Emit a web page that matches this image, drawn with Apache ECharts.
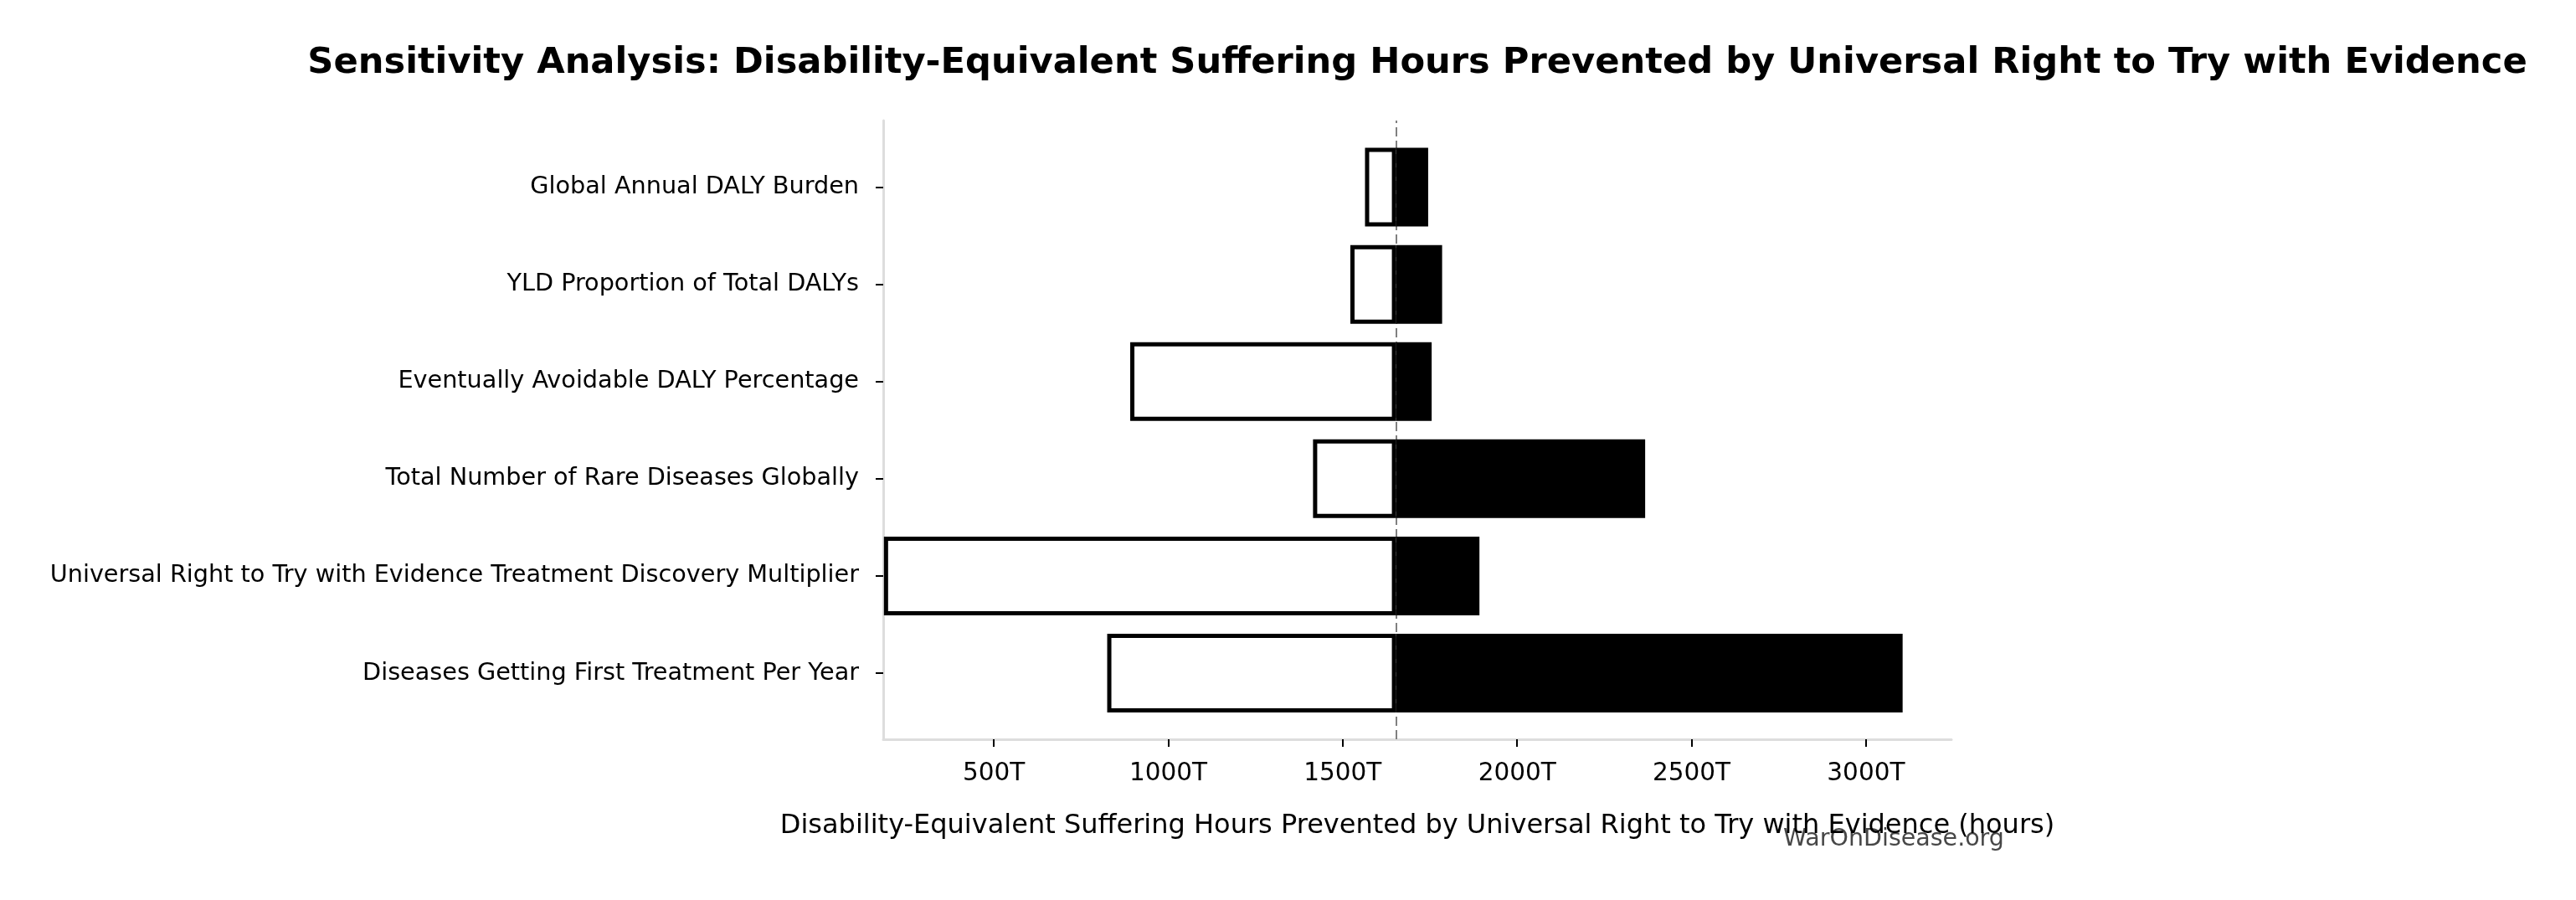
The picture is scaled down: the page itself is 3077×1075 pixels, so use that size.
<!DOCTYPE html>
<html>
<head>
<meta charset="utf-8">
<title>Sensitivity Analysis</title>
<script src="https://cdn.jsdelivr.net/npm/echarts@6/dist/echarts.min.js"></script>
<style>
html, body { margin: 0; padding: 0; background: #ffffff; }
#main { width: 3077px; height: 1075px; }
</style>
</head>
<body>
<div id="main"></div>
<script>
// parameters, top to bottom
var parameters = [
    'Global Annual DALY Burden',
    'YLD Proportion of Total DALYs',
    'Eventually Avoidable DALY Percentage',
    'Total Number of Rare Diseases Globally',
    'Universal Right to Try with Evidence Treatment Discovery Multiplier',
    'Diseases Getting First Treatment Per Year'
];
// outcome (T hours) at low / high parameter value
var lowValues = [1564, 1522, 891, 1415, 185, 825];
var highValues = [1745, 1785, 1755, 2367, 1892, 3105];
var baselineValue = 1653;
var tickValues = [500, 1000, 1500, 2000, 2500, 3000];

var axisMin = 183;
var axisMax = 3245;
var font = 'DejaVu Sans';

// stacked pieces: invisible base + visible span
var lowSpan = lowValues.map(function (v) { return baselineValue - v; });
var highBase = highValues.map(function () { return baselineValue; });
var highSpan = highValues.map(function (v) { return v - baselineValue; });

var myChart = echarts.init(document.getElementById('main'));

option = {
    backgroundColor: '#ffffff',
    animation: false,
    title: {
        text: 'Sensitivity Analysis: Disability-Equivalent Suffering Hours Prevented by Universal Right to Try with Evidence',
        left: 1693,
        top: 54,
        padding: 0,
        textAlign: 'center',
        textStyle: {
            fontFamily: font,
            fontWeight: 'bold',
            fontSize: 43.2,
            color: '#000000'
        }
    },
    grid: [{
        // frame: spines, x ticks, axis title
        left: 1055,
        width: 1276,
        top: 144,
        height: 739,
        outerBoundsMode: 'none'
    }, {
        // bars
        left: 1055,
        width: 1276,
        top: 165.5,
        height: 696.6,
        outerBoundsMode: 'none'
    }],
    xAxis: [{
        type: 'value',
        gridIndex: 0,
        min: axisMin,
        max: axisMax,
        splitLine: { show: false },
        axisLine: { show: true, lineStyle: { color: '#dddddd', width: 3 } },
        axisTick: {
            show: true,
            customValues: tickValues,
            length: 9,
            lineStyle: { color: '#000000', width: 2 }
        },
        axisLabel: {
            customValues: tickValues,
            margin: 26,
            fontFamily: font,
            fontSize: 29.5,
            color: '#000000',
            formatter: function (v) { return v + 'T'; }
        },
        name: 'Disability-Equivalent Suffering Hours Prevented by Universal Right to Try with Evidence (hours)',
        nameLocation: 'middle',
        nameGap: 88,
        nameTextStyle: {
            fontFamily: font,
            fontSize: 32,
            color: '#000000'
        }
    }, {
        type: 'value',
        gridIndex: 1,
        min: axisMin,
        max: axisMax,
        show: false
    }],
    yAxis: [{
        type: 'value',
        gridIndex: 0,
        min: 0,
        max: 1,
        splitLine: { show: false },
        axisLine: { show: true, lineStyle: { color: '#dddddd', width: 3 } },
        axisTick: { show: false },
        axisLabel: { show: false }
    }, {
        type: 'category',
        gridIndex: 1,
        inverse: true,
        data: parameters,
        axisLine: { show: false },
        axisTick: {
            show: true,
            alignWithLabel: true,
            length: 9,
            lineStyle: { color: '#000000', width: 2 }
        },
        axisLabel: {
            margin: 29,
            fontFamily: font,
            fontSize: 28.7,
            color: '#000000'
        }
    }],
    series: [{
        name: 'baseline',
        type: 'line',
        xAxisIndex: 0,
        yAxisIndex: 0,
        z: 1,
        data: [],
        markLine: {
            silent: true,
            z: 1,
            symbol: 'none',
            label: { show: false },
            lineStyle: { color: '#808080', width: 2, type: [11, 5] },
            data: [{ xAxis: baselineValue }]
        }
    }, {
        name: 'lowBase',
        type: 'bar',
        xAxisIndex: 1,
        yAxisIndex: 1,
        stack: 'low',
        silent: true,
        z: 3,
        barWidth: 94,
        itemStyle: { color: 'rgba(0,0,0,0)' },
        data: lowValues
    }, {
        name: 'Low value',
        type: 'bar',
        xAxisIndex: 1,
        yAxisIndex: 1,
        stack: 'low',
        z: 3,
        barWidth: 94,
        itemStyle: { color: '#ffffff', borderColor: '#000000', borderWidth: 5 },
        data: lowSpan
    }, {
        name: 'highBase',
        type: 'bar',
        xAxisIndex: 1,
        yAxisIndex: 1,
        stack: 'high',
        silent: true,
        z: 3,
        barWidth: 94,
        barGap: '-100%',
        itemStyle: { color: 'rgba(0,0,0,0)' },
        data: highBase
    }, {
        name: 'High value',
        type: 'bar',
        xAxisIndex: 1,
        yAxisIndex: 1,
        stack: 'high',
        z: 3,
        barWidth: 94,
        barGap: '-100%',
        itemStyle: { color: '#000000', borderColor: '#000000', borderWidth: 5 },
        data: highSpan
    }],
    graphic: [{
        type: 'text',
        left: 2130,
        top: 988,
        style: {
            text: 'WarOnDisease.org',
            fontFamily: font,
            fontSize: 28.5,
            fill: '#333333',
            opacity: 0.9
        }
    }]
};

myChart.setOption(option);

window.onresize = function () {
    myChart.resize();
};
</script>
</body>
</html>
